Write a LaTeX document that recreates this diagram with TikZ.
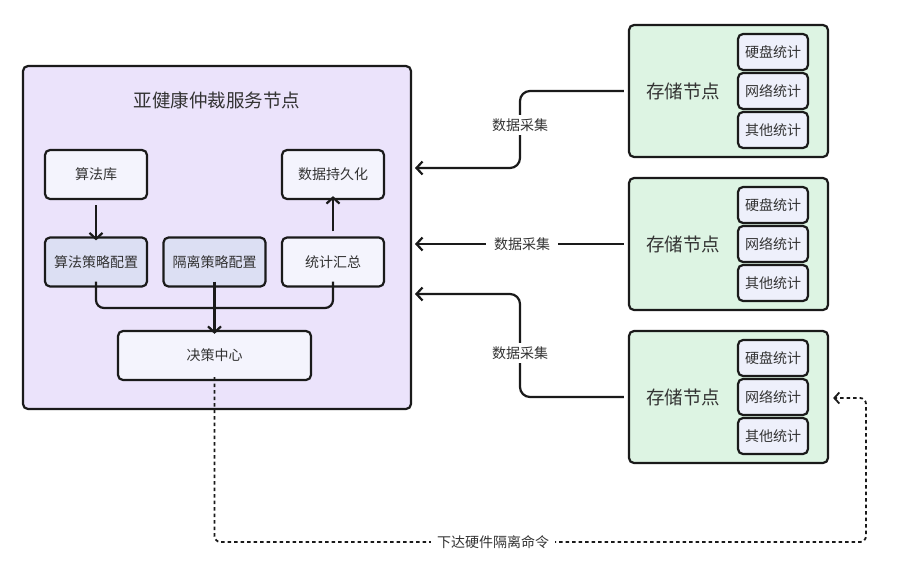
\documentclass[tikz,border=0pt]{standalone}
\usepackage{fontspec}
\setmainfont{Noto Sans CJK SC}
\usetikzlibrary{arrows.meta}
\definecolor{mainfill}{HTML}{EBE3FB}
\definecolor{boxfill}{HTML}{F4F4FD}
\definecolor{stratfill}{HTML}{DCDFF3}
\definecolor{storefill}{HTML}{DDF4E3}
\definecolor{subfill}{HTML}{EEF0FB}
\definecolor{edge}{HTML}{1A1A1A}
\definecolor{txt}{HTML}{333333}
\begin{document}
\begin{tikzpicture}[x=1pt,y=-1pt,
  mainbox/.style={draw=edge, line width=2.2pt, fill=mainfill, rounded corners=5pt, minimum width=388pt, minimum height=343pt, inner sep=0pt},
  ibox/.style={draw=edge, line width=2.2pt, fill=boxfill, rounded corners=5pt, minimum width=102pt, minimum height=49pt, inner sep=0pt, font=\fontsize{14}{16}\selectfont, text=txt},
  sbox/.style={ibox, fill=stratfill},
  store/.style={draw=edge, line width=2.2pt, fill=storefill, rounded corners=5pt, minimum width=199pt, minimum height=132pt, inner sep=0pt},
  sub/.style={draw=edge, line width=2.2pt, fill=subfill, rounded corners=5pt, minimum width=70pt, minimum height=36pt, inner sep=0pt, font=\fontsize{14}{16}\selectfont, text=txt},
  biglabel/.style={font=\fontsize{18.5}{21}\selectfont, text=txt},
  elabel/.style={fill=white, inner sep=4pt, font=\fontsize{14}{16}\selectfont, text=txt},
  arr/.style={-{Straight Barb[length=6pt,width=13pt,line width=2.2pt]}, line width=2.2pt, draw=edge},
  conn/.style={line width=2.2pt, draw=edge},
  dotarr/.style={-{Straight Barb[length=5pt,width=11pt,line width=1.8pt]}, line width=1.8pt, draw=edge, dash pattern=on 3.5pt off 3pt}
]
\useasboundingbox (0,0) rectangle (899,581);
\fill[white] (0,0) rectangle (899,581);

% main service node
\node[mainbox] (main) at (217,237.5) {};
\node[biglabel] (title) at (217,100) {亚健康仲裁服务节点};

\node[ibox] (lib) at (96,174.5) {算法库};
\node[ibox] (persist) at (333,174.5) {数据持久化};
\node[sbox] (algo) at (96,262) {算法策略配置};
\node[sbox] (iso) at (214.5,262) {隔离策略配置};
\node[ibox] (stat) at (333,262) {统计汇总};
\node[ibox, minimum width=193pt] (dc) at (214.5,355.5) {决策中心};

\draw[arr] (lib.south) ++(0,5) -- ([yshift=-4pt]algo.north);
\draw[arr] (stat.north) ++(0,-5) -- ([yshift=4pt]persist.south);
\draw[conn, rounded corners=8pt] ([yshift=6pt]algo.south) -- (96,308) -- (333,308) -- ([yshift=6pt]stat.south);
\draw[arr] ([yshift=6pt]iso.south) -- ([yshift=-4pt]dc.north);

% storage nodes
\foreach \i/\y in {1/91,2/244,3/397}{
  \node[store] (s\i) at (728.5,\y) {};
  \node[biglabel] (s\i l) at (683,\y) {存储节点};
  \node[sub] (s\i a) at (773,\y-39) {硬盘统计};
  \node[sub] (s\i b) at (773,\y) {网络统计};
  \node[sub] (s\i c) at (773,\y+39) {其他统计};
}

% data collection arrows
\coordinate (in1) at (415,168);
\coordinate (in2) at (415,237);
\coordinate (in3) at (415,294);
\coordinate (b1) at (520,91);
\coordinate (b3) at (520,397);
\draw[arr, rounded corners=10pt] ([xshift=-4pt]s1.west) -- (b1) -- (b1 |- in1) -- (in1);
\node[elabel] (l1) at (520,125) {数据采集};
\draw[arr] ([xshift=-4pt]s2.west) -- (in2 |- s2.west);
\node[elabel, inner xsep=8pt] (l2) at (522,244) {数据采集};
\draw[arr, rounded corners=10pt] ([xshift=-4pt]s3.west) -- (b3) -- (b3 |- in3) -- (in3);
\node[elabel] (l3) at (520,353) {数据采集};

% command
\coordinate (d1) at (214.5,542);
\coordinate (d2) at (866,542);
\coordinate (d3) at (866,398);
\draw[dotarr, rounded corners=6pt] ([yshift=4pt]dc.south) -- (d1) -- (d2) -- (d3) -- ([xshift=4pt]s3.east |- d3);
\node[elabel, inner xsep=6pt] (l4) at (493,542) {下达硬件隔离命令};
\end{tikzpicture}
\end{document}
